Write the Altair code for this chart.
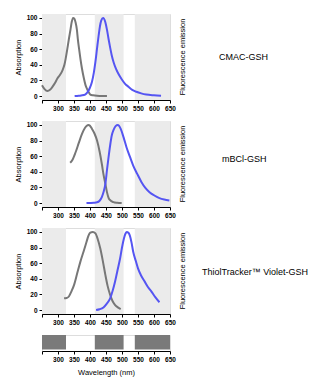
import altair as alt
import pandas as pd

# Filter bands (nm)
band_start = [250, 415, 540]
band_end = [325, 505, 650]

# CMAC-GSH
abs1_x = [250, 258, 267, 275, 283, 291, 298, 306, 314, 320, 324, 329, 334, 339, 343, 347, 351, 355, 359, 362, 366, 370, 375, 381, 386, 391, 396, 401, 410, 422, 437, 453]
abs1_y = [14, 9, 6.5, 8, 12, 17, 22.5, 27, 33, 40, 48, 60, 73, 85, 95, 100, 99, 94, 85, 73, 60, 48, 35, 22.5, 14, 9, 5, 2, 1, 0.3, 0, 0]
em1_x = [352, 365, 381, 388, 393, 399, 406, 412, 417, 422, 427, 431, 435, 441, 448, 453, 458, 463, 468, 474, 481, 490, 499, 509, 520, 532, 545, 560, 576, 600, 622]
em1_y = [0, 0.4, 1.3, 3, 5.5, 10, 18, 30, 44, 61, 77.5, 89, 96.6, 100, 94.5, 85, 73, 62, 52, 43, 35, 27.5, 21.6, 16, 12, 8, 5.5, 3.5, 2, 1, 0.4]

# mBCl-GSH
abs2_x = [338, 345, 355, 365, 375, 384, 390, 395, 400, 406, 414, 422, 430, 437, 442, 448, 453, 458, 465, 473, 485, 499]
abs2_y = [51.5, 55, 65, 77, 88.5, 96, 99, 100, 99, 95, 89, 80, 66, 50, 37, 24.7, 14, 6.8, 3, 1.3, 0.4, 0]
em2_x = [389, 400, 412, 422, 430, 437, 443, 448, 453, 458, 463, 468, 474, 480, 487, 496, 505, 514, 525, 535, 548, 561, 573, 586, 600, 617, 632, 648]
em2_y = [0, 0.2, 0.5, 1, 3, 7.7, 15, 24.7, 42, 58.7, 74, 86.4, 94, 98.5, 100, 95, 84, 71.5, 59, 48, 37, 26.8, 19.5, 14, 10, 6.4, 4.6, 3.4]

# ThiolTracker Violet-GSH
abs3_x = [319, 327, 334, 342, 350, 360, 370, 380, 389, 395, 401, 409, 417, 424, 432, 440, 448, 455, 463, 470, 478, 487, 496]
abs3_y = [15, 15.5, 17.4, 24, 32, 47, 62, 75, 87, 95, 99, 100, 98, 91, 79, 63, 45, 31, 19.5, 12, 6.8, 3.5, 1.3]
em3_x = [419, 430, 442, 452, 463, 471, 478, 486, 494, 500, 506, 511, 515, 520, 524, 530, 535, 543, 550, 560, 571, 581, 592, 604, 617]
em3_y = [0, 1, 3.4, 8, 15, 25, 36, 51, 66, 80, 91.5, 98, 100, 99, 96, 86, 74.6, 63, 53.4, 44, 36.4, 29.5, 23.7, 16.5, 10]

names = ["CMAC-GSH", "mBCl-GSH", "ThiolTracker\u2122 Violet-GSH"]
name_x = [177, 180, 160]
name_dy = [0, -5, 1]

x_ticks = [250, 300, 350, 400, 450, 500, 550, 600, 650]
y_ticks = [0, 20, 40, 60, 80, 100]

W, H = 128, 86
GRAY = "#777777"
BLUE = "#5555f2"
FONT = "Liberation Sans"

xs = alt.Scale(domain=[250, 650], nice=False, zero=False)
ys = alt.Scale(domain=[-5, 105], nice=False, zero=False)

bands_df = pd.DataFrame({"start": band_start, "end": band_end})


def x_axis(title=None):
    kw = dict(values=x_ticks, labelExpr="datum.value == 250 ? '' : datum.label",
              labelFontSize=6.5, labelFontWeight="bold", labelFont=FONT, labelPadding=2,
              tickSize=3, tickColor="black", domainColor="black", labelColor="black",
              grid=False, labelFlush=False, labelOverlap=False, labelBound=False)
    if title:
        kw.update(title=title, titleFontSize=7.5, titleFont=FONT, titleFontWeight="normal",
                  titlePadding=6, titleColor="black")
    else:
        kw.update(title=None)
    return alt.Axis(**kw)


y_axis = alt.Axis(values=y_ticks, title="Absorption", titleFontSize=7.5, titleFont=FONT,
                  titleFontWeight="normal", titleColor="black", titlePadding=4,
                  labelFontSize=6.5, labelFontWeight="bold", labelFont=FONT, labelColor="black",
                  tickSize=3, tickColor="black", domainColor="black", grid=False, labelPadding=2,
                  labelOverlap=False, labelFlush=False, labelBound=False)


def panel(ax, ay, ex, ey, name, nx, dy):
    bands = alt.Chart(bands_df).mark_rect(color="#ebebeb").encode(
        x=alt.X("start:Q", scale=xs, axis=x_axis()),
        x2="end:Q",
        y=alt.value(0),
        y2=alt.value(H),
    )
    a = alt.Chart(pd.DataFrame({"wl": ax, "v": ay})).mark_line(
        color=GRAY, strokeWidth=2, interpolate="monotone").encode(
        x=alt.X("wl:Q", scale=xs, axis=x_axis()),
        y=alt.Y("v:Q", scale=ys, axis=y_axis),
    )
    e = alt.Chart(pd.DataFrame({"wl": ex, "v": ey})).mark_line(
        color=BLUE, strokeWidth=2, interpolate="monotone").encode(
        x=alt.X("wl:Q", scale=xs, axis=x_axis()),
        y=alt.Y("v:Q", scale=ys, axis=y_axis),
    )
    fl = alt.Chart(pd.DataFrame({"t": ["Fluorescence emission"]})).mark_text(
        angle=270, fontSize=7.5, font=FONT, color="black", baseline="middle", align="center").encode(
        text="t:N", x=alt.value(W + 13), y=alt.value(H / 2))
    lab = alt.Chart(pd.DataFrame({"t": [name]})).mark_text(
        fontSize=9, font=FONT, color="black", align="left", baseline="middle").encode(
        text="t:N", x=alt.value(nx), y=alt.value(H / 2 + dy))
    return alt.layer(bands, a, e, fl, lab).properties(width=W, height=H)


p1 = panel(abs1_x, abs1_y, em1_x, em1_y, names[0], name_x[0], name_dy[0])
p2 = panel(abs2_x, abs2_y, em2_x, em2_y, names[1], name_x[1], name_dy[1])
p3 = panel(abs3_x, abs3_y, em3_x, em3_y, names[2], name_x[2], name_dy[2])

bottom = alt.Chart(bands_df).mark_rect(color="#7a7a7a").encode(
    x=alt.X("start:Q", scale=xs, axis=x_axis("Wavelength (nm)")),
    x2="end:Q",
    y=alt.value(0),
    y2=alt.value(14.5),
).properties(width=W, height=16)

chart = alt.vconcat(p1, p2, p3, bottom, spacing=8).configure_view(stroke=None).configure(
    font=FONT)

chart.save("out.html", embed_options={"renderer": "svg", "actions": False})
